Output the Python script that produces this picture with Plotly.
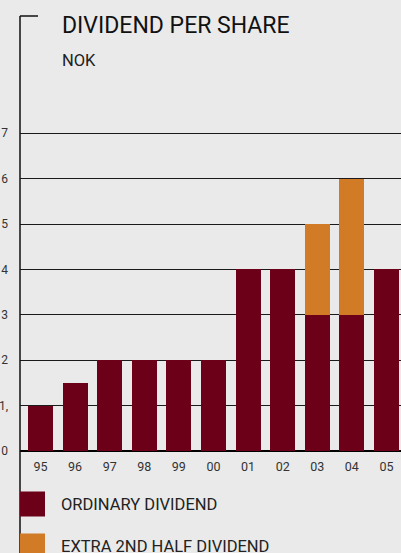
import plotly.graph_objects as go

# Dividend per share (NOK), 1995-2005
years = ["95", "96", "97", "98", "99", "00", "01", "02", "03", "04", "05"]
ordinary = [1, 1.5, 2, 2, 2, 2, 4, 4, 3, 3, 4]
extra = [0, 0, 0, 0, 0, 0, 0, 0, 2, 3, 0]
y_ticks = [0, 1, 2, 3, 4, 5, 6, 7]
y_tick_text = ["0", "1,", "2", "3", "4", "5", "6", "7"]

series_names = ["ORDINARY DIVIDEND", "EXTRA 2ND HALF DIVIDEND"]
series_colors = ["#6D0019", "#D27B27"]

W, H = 401, 553
ML, MR, MT, MB = 20, 0, 16, 102
PW, PH = W - ML - MR, H - MT - MB
BG = "#EAEAEA"
FONT = "Roboto"


def px(x):
    return (x - ML) / PW


def py(y):
    return (H - MB - y) / PH


fig = go.Figure()
fig.add_trace(go.Bar(x=years, y=ordinary, name=series_names[0],
                     marker=dict(color=series_colors[0], line=dict(width=0)),
                     width=0.72))
fig.add_trace(go.Bar(x=years, y=extra, name=series_names[1],
                     marker=dict(color=series_colors[1], line=dict(width=0)),
                     width=0.72))

shapes = [
    # vertical frame line running down past the legend
    dict(type="line", xref="paper", yref="paper", x0=0, x1=0, y0=py(16), y1=py(560),
         line=dict(color="#111111", width=1.5)),
    # short top cap of the frame
    dict(type="line", xref="paper", yref="paper", x0=0, x1=px(38), y0=py(16), y1=py(16),
         line=dict(color="#111111", width=1.5)),
]
annotations = [
    dict(text="DIVIDEND PER SHARE", xref="paper", yref="paper", x=px(60), y=py(25),
         xanchor="left", yanchor="middle", showarrow=False,
         font=dict(family=FONT, size=23, color="#111111")),
    dict(text="NOK", xref="paper", yref="paper", x=px(60), y=py(60),
         xanchor="left", yanchor="middle", showarrow=False,
         font=dict(family=FONT, size=16.5, color="#222222")),
]

# legend: coloured squares with labels below the axis
legend_rows = [504, 546]
for name, color, yc in zip(series_names, series_colors, legend_rows):
    shapes.append(dict(type="rect", xref="paper", yref="paper",
                       x0=px(20), x1=px(45), y0=py(yc - 12.5), y1=py(yc + 12.5),
                       fillcolor=color, line=dict(width=0)))
    annotations.append(dict(text=name, xref="paper", yref="paper", x=px(59), y=py(yc),
                            xanchor="left", yanchor="middle", showarrow=False,
                            font=dict(family=FONT, size=16.5, color="#222222")))

fig.update_layout(
    width=W, height=H,
    margin=dict(l=ML, r=MR, t=MT, b=MB, pad=0),
    paper_bgcolor=BG, plot_bgcolor=BG,
    barmode="stack", showlegend=False,
    shapes=shapes, annotations=annotations,
    xaxis=dict(type="category", range=[-0.592, 10.42], showgrid=False,
               showline=False, zeroline=False, ticks="",
               tickfont=dict(family=FONT, size=12.5, color="#333333"),
               ticklabelstandoff=6, fixedrange=True),
    yaxis=dict(range=[0, PH / 45.4], tickvals=y_ticks, ticktext=y_tick_text,
               showgrid=True, gridcolor="#1A1A1A", gridwidth=1,
               zeroline=True, zerolinecolor="#000000", zerolinewidth=1.5,
               showline=False, ticks="",
               tickfont=dict(family=FONT, size=12, color="#333333"),
               ticklabelstandoff=11, fixedrange=True),
)

fig.write_html("out.html", config={"displayModeBar": False})
